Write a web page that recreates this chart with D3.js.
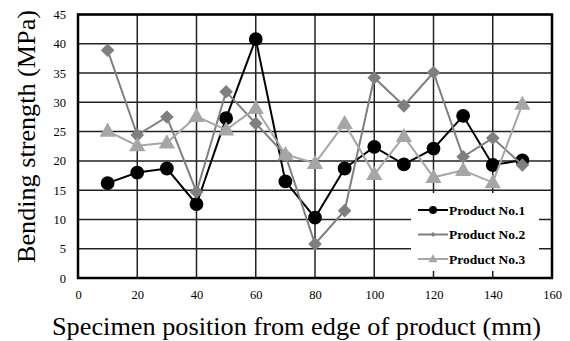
<!DOCTYPE html>
<html><head><meta charset="utf-8">
<script src="https://cdn.jsdelivr.net/npm/d3@7"></script>
<style>body{margin:0;background:#fff}svg{display:block}svg text{font-family:"Liberation Serif",serif}</style>
</head><body>
<script>
const positions = [10,20,30,40,50,60,70,80,90,100,110,120,130,140,150];
const product1 = [16.2,18.0,18.7,12.6,27.3,40.8,16.5,10.3,18.7,22.4,19.4,22.1,27.7,19.3,20.1];
const product2 = [38.9,24.4,27.5,14.7,31.8,26.4,21.0,5.8,11.5,34.2,29.4,35.1,20.7,23.9,19.3];
const product3 = [25.1,22.6,23.1,27.6,25.3,29.0,21.1,19.6,26.4,17.7,24.2,17.2,18.4,16.3,29.7];
const seriesNames = ["Product No.1","Product No.2","Product No.3"];
const xTicks = [0,20,40,60,80,100,120,140,160];
const yTicks = [0,5,10,15,20,25,30,35,40,45];

const W=570,H=341;
const svg=d3.select("body").append("svg").attr("width",W).attr("height",H);
const x=d3.scaleLinear().domain([0,160]).range([78,552]);
const y=d3.scaleLinear().domain([0,45]).range([278,14.5]);

// grid
svg.append("g").selectAll("line").data(yTicks).join("line")
 .attr("x1",x(0)).attr("x2",x(160)).attr("y1",d=>y(d)).attr("y2",d=>y(d))
 .attr("stroke","#222").attr("stroke-width",1.5);
svg.append("g").selectAll("line").data(xTicks).join("line")
 .attr("y1",y(0)).attr("y2",y(45)).attr("x1",d=>x(d)).attr("x2",d=>x(d))
 .attr("stroke","#222").attr("stroke-width",1.5);

// axes labels
const xa=d3.axisBottom(x).tickValues(xTicks).tickSize(0).tickPadding(12);
svg.append("g").attr("transform",`translate(0,${y(0)})`).call(xa)
 .call(g=>g.select(".domain").remove())
 .call(g=>g.attr("font-family",null))
 .selectAll("text").attr("font-size",12.5).attr("fill","#000");
const ya=d3.axisLeft(y).tickValues(yTicks).tickSize(0).tickPadding(12);
svg.append("g").attr("transform",`translate(${x(0)},0)`).call(ya)
 .call(g=>g.select(".domain").remove())
 .call(g=>g.attr("font-family",null))
 .selectAll("text").attr("font-size",12.5).attr("fill","#000");

// border
svg.append("rect").attr("x",x(0)).attr("y",y(45)).attr("width",x(160)-x(0)).attr("height",y(0)-y(45))
 .attr("fill","none").attr("stroke","#000").attr("stroke-width",2.5);

// titles
svg.append("text").attr("x",296.5).attr("y",335).attr("text-anchor","middle")
 .attr("font-size",24.5)
 .attr("textLength",489).attr("lengthAdjust","spacingAndGlyphs")
 .text("Specimen position from edge of product (mm)");
svg.append("text").attr("transform",`translate(35,136.5) rotate(-90)`).attr("text-anchor","middle")
 .attr("font-size",24.5)
 .attr("textLength",253).attr("lengthAdjust","spacingAndGlyphs")
 .text("Bending strength (MPa)");

const colors=["#000000","#7f7f7f","#a6a6a6"];
const symbols=[d3.symbolCircle,d3.symbolDiamond2,d3.symbolTriangle];
const sizes=[150,118,115];
const data=[product1,product2,product3];
const line=d3.line().x((d,i)=>x(positions[i])).y(d=>y(d));

data.forEach((vals,si)=>{
  const g=svg.append("g");
  g.append("path").datum(vals).attr("d",line).attr("fill","none").attr("stroke",colors[si]).attr("stroke-width",2);
  g.selectAll("path.m").data(vals).join("path").attr("class","m")
   .attr("d",d3.symbol().type(symbols[si]).size(sizes[si]))
   .attr("transform",(d,i)=>`translate(${x(positions[i])},${y(d)+(si==2?1:0)})`)
   .attr("fill",colors[si]);
});

// legend
const lg=svg.append("g");
lg.append("rect").attr("x",411).attr("y",193).attr("width",128).attr("height",78).attr("fill","#fff");
seriesNames.forEach((n,i)=>{
  const ly=210+i*24.5;
  lg.append("line").attr("x1",418).attr("x2",448).attr("y1",ly).attr("y2",ly).attr("stroke",colors[i]).attr("stroke-width",2);
  lg.append("path").attr("d",d3.symbol().type(symbols[i]).size([50,16,36][i]))
    .attr("transform",`translate(433,${ly+(i==2?0.5:0)})`).attr("fill",colors[i]);
  lg.append("text").attr("x",449).attr("y",ly+4.5).attr("font-weight","bold")
    .attr("font-size",13.5).text(n);
});
</script>
</body></html>
